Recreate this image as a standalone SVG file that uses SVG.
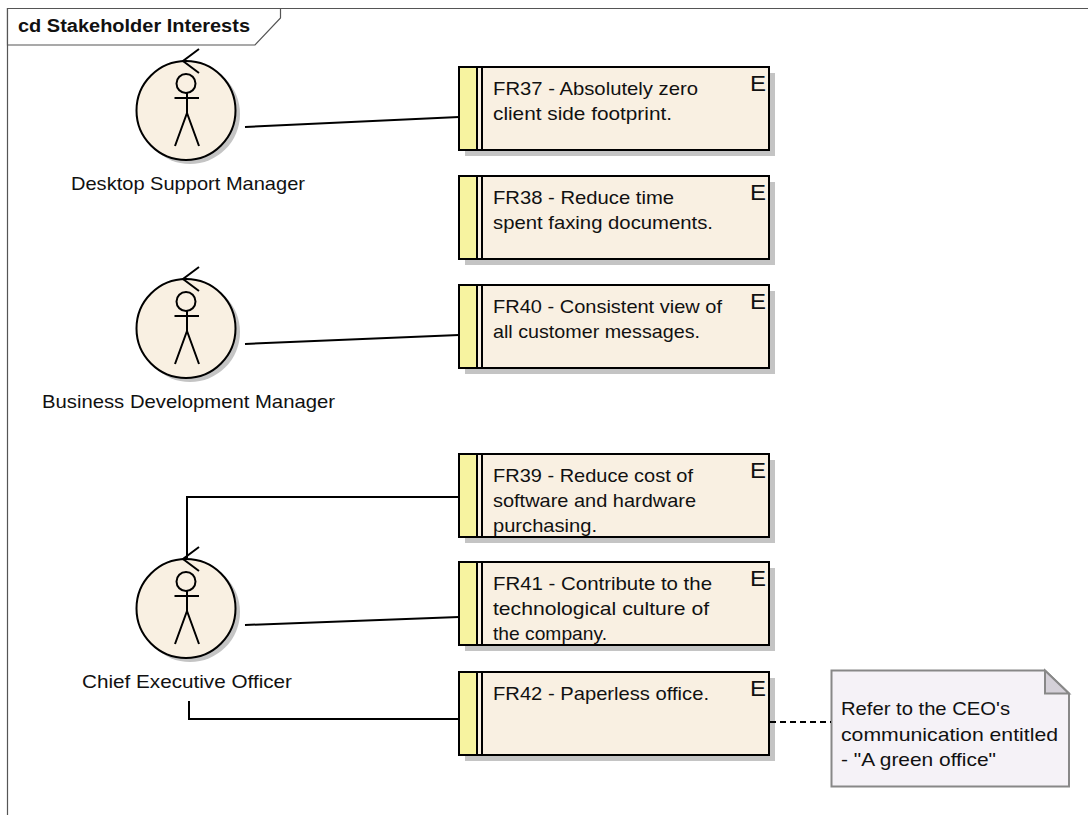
<svg xmlns="http://www.w3.org/2000/svg" width="1088" height="815" viewBox="0 0 1088 815">
<defs>
<style>
text{font-family:"Liberation Sans",Arial,sans-serif;font-size:18.500px;fill:#111}
.sh{fill:#c4c4c4;stroke:none}
.body{fill:#f9f0e2;stroke:#000;stroke-width:2}
.bar{fill:#f7f3a0;stroke:#000;stroke-width:2}
.ln{fill:none;stroke:#000;stroke-width:2}
.e{font-size:21.500px}
</style>
<g id="actorShape">
<circle class="sh" cx="190" cy="114" r="50"/>
<circle class="body" cx="186" cy="110.500" r="49.500"/>
<path class="ln" d="M199 49L183 61L199 73M187 93V113M174.500 98H199M187 113L175 146M187 113L199 146"/>
<circle class="ln" cx="186" cy="83.500" r="9.500"/>
</g>
<g id="reqShape">
<rect class="sh" x="465" y="73" width="310" height="83"/>
<rect class="body" x="459" y="67" width="310" height="83"/>
<rect class="bar" x="459" y="67" width="18" height="83"/>
<path class="ln" d="M482 67V150"/>
</g>
</defs>
<rect width="1088" height="815" fill="#fff"/>
<g id="frame">
<path d="M7.500 815V8.500H1088" fill="none" stroke="#555" stroke-width="1.200"/>
<path d="M7.500 8.500H280.500V18L255 45H7.500Z" fill="#fff" stroke="#555" stroke-width="1.200"/>
<text x="18" y="32" textLength="232" lengthAdjust="spacingAndGlyphs" style="font-weight:700;font-size:17.500px">cd Stakeholder Interests</text>
</g>
<g id="actor-desktop"><use href="#actorShape"/><text x="71" y="190" textLength="234" lengthAdjust="spacingAndGlyphs">Desktop Support Manager</text></g>
<g id="actor-bdm"><use href="#actorShape" y="218"/><text x="42" y="408" textLength="293" lengthAdjust="spacingAndGlyphs">Business Development Manager</text></g>
<g id="actor-ceo"><use href="#actorShape" y="498"/><text x="82" y="688" textLength="210" lengthAdjust="spacingAndGlyphs">Chief Executive Officer</text></g>
<g id="fr37"><use href="#reqShape"/><text class="e" x="750" y="91" textLength="16" lengthAdjust="spacingAndGlyphs">E</text><text x="493" y="95" textLength="205" lengthAdjust="spacingAndGlyphs">FR37 - Absolutely zero</text><text x="493" y="120" textLength="179" lengthAdjust="spacingAndGlyphs">client side footprint.</text></g>
<g id="fr38"><use href="#reqShape" y="109"/><text class="e" x="750" y="200" textLength="16" lengthAdjust="spacingAndGlyphs">E</text><text x="493" y="204" textLength="181" lengthAdjust="spacingAndGlyphs">FR38 - Reduce time</text><text x="493" y="229" textLength="220" lengthAdjust="spacingAndGlyphs">spent faxing documents.</text></g>
<g id="fr40"><use href="#reqShape" y="218"/><text class="e" x="750" y="309" textLength="16" lengthAdjust="spacingAndGlyphs">E</text><text x="493" y="313" textLength="229" lengthAdjust="spacingAndGlyphs">FR40 - Consistent view of</text><text x="493" y="338" textLength="207" lengthAdjust="spacingAndGlyphs">all customer messages.</text></g>
<g id="fr39"><use href="#reqShape" y="387"/><text class="e" x="750" y="478" textLength="16" lengthAdjust="spacingAndGlyphs">E</text><text x="493" y="482" textLength="200" lengthAdjust="spacingAndGlyphs">FR39 - Reduce cost of</text><text x="493" y="507" textLength="203" lengthAdjust="spacingAndGlyphs">software and hardware</text><text x="493" y="532" textLength="104" lengthAdjust="spacingAndGlyphs">purchasing.</text></g>
<g id="fr41"><use href="#reqShape" y="495"/><text class="e" x="750" y="586" textLength="16" lengthAdjust="spacingAndGlyphs">E</text><text x="493" y="590" textLength="219" lengthAdjust="spacingAndGlyphs">FR41 - Contribute to the</text><text x="493" y="615" textLength="216" lengthAdjust="spacingAndGlyphs">technological culture of</text><text x="493" y="640" textLength="114" lengthAdjust="spacingAndGlyphs">the company.</text></g>
<g id="fr42"><use href="#reqShape" y="605"/><text class="e" x="750" y="696" textLength="16" lengthAdjust="spacingAndGlyphs">E</text><text x="493" y="700" textLength="216" lengthAdjust="spacingAndGlyphs">FR42 - Paperless office.</text></g>
<g id="note">
<path d="M831.500 670.500H1045L1069 693.500V786.500H831.500Z" fill="#f5f2f7" stroke="#888" stroke-width="2"/>
<path d="M1045 670.500V693.500H1069Z" fill="#d4d0d8" stroke="#888" stroke-width="2"/>
<text x="841" y="715" textLength="169" lengthAdjust="spacingAndGlyphs">Refer to the CEO's</text><text x="841" y="741" textLength="217" lengthAdjust="spacingAndGlyphs">communication entitled</text><text x="841" y="766" textLength="155" lengthAdjust="spacingAndGlyphs">- "A green office"</text>
</g>
<g id="connectors">
<path class="ln" d="M245 127L459 117"/>
<path class="ln" d="M245 344L459 335"/>
<path class="ln" d="M187 558V497H459"/>
<path class="ln" d="M245 625L459 617"/>
<path class="ln" d="M189 701V719H459"/>
<path d="M770 722H831" fill="none" stroke="#000" stroke-width="2" stroke-dasharray="6 4"/>
</g>
</svg>
